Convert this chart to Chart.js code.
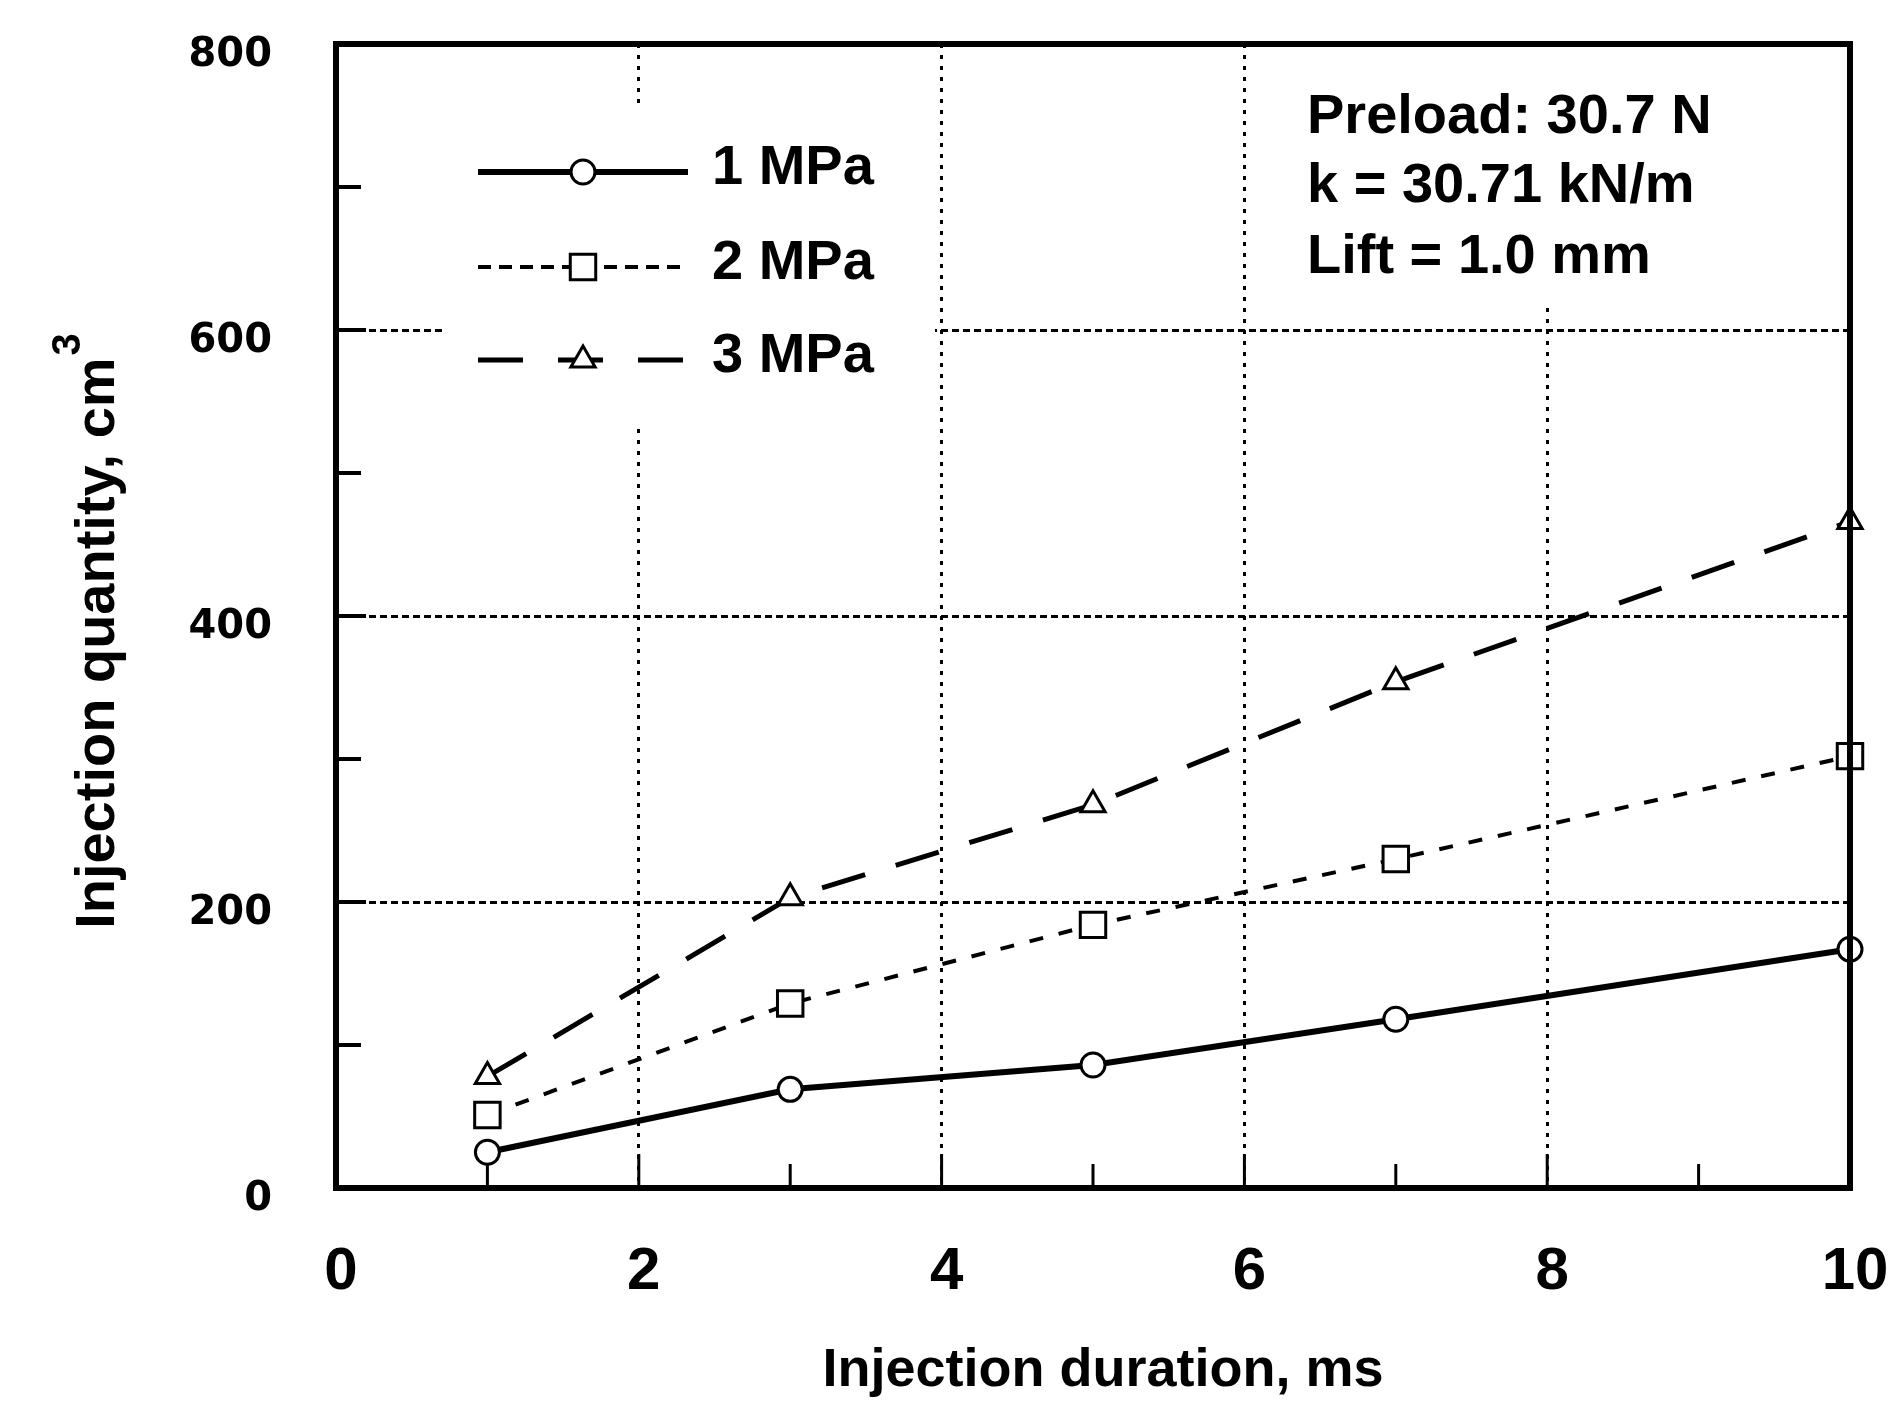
<!DOCTYPE html>
<html>
<head>
<meta charset="utf-8">
<title>Injection quantity vs duration</title>
<script src="https://cdn.jsdelivr.net/npm/chart.js@4.4.1/dist/chart.umd.min.js"></script>
<style>
  html, body { margin: 0; padding: 0; background: #fff; }
  #wrap { width: 1898px; height: 1403px; }
</style>
</head>
<body>
<div id="wrap"><canvas id="injChart" width="1898" height="1403"></canvas></div>
<script>
// injection duration (ms) where points were measured
const durations = [1, 3, 5, 7, 10];

// injection quantity (cm3) per supply pressure
const q1MPa = [25, 69, 86, 118, 167];
const q2MPa = [51, 129, 184, 230, 302];
const q3MPa = [78, 203, 268, 354, 466];

const seriesLabels = ["1 MPa", "2 MPa", "3 MPa"];
const xTickLabels = [0, 2, 4, 6, 8, 10];
const yTickLabels = [0, 200, 400, 600, 800];
const noteLines = ["Preload: 30.7 N", "k = 30.71 kN/m", "Lift = 1.0 mm"];

const xTitle = "Injection duration, ms";
const yTitle = "Injection quantity, cm";

const INK = "#000";

function toPoints(ys) {
    return durations.map((d, i) => ({ x: d, y: ys[i] }));
}

const seriesStyle = [
    { dash: [], legendDash: [], width: 6, pointStyle: "circle", radius: 12 },
    { dash: [14, 16], legendDash: [13, 8], width: 4, pointStyle: "rect", radius: 18 },
    { dash: [45, 32], legendDash: [45, 35], width: 5, pointStyle: "triangle", radius: 14 },
];

const seriesData = [q1MPa, q2MPa, q3MPa];

const datasets = seriesData.map((ys, i) => ({
    label: seriesLabels[i],
    data: toPoints(ys),
    borderColor: INK,
    borderWidth: seriesStyle[i].width,
    borderDash: seriesStyle[i].dash,
    pointStyle: seriesStyle[i].pointStyle,
    pointRadius: seriesStyle[i].radius,
    pointBorderWidth: 3,
    pointBorderColor: INK,
    pointBackgroundColor: "#fff",
    tension: 0,
    clip: false,
}));

// frame, inner ticks, legend box, note text and axis titles
const decorations = {
    id: "decorations",
    afterDraw(chart) {
        const ctx = chart.ctx;
        const area = chart.chartArea;
        const xs = chart.scales.x;
        const ys = chart.scales.y;

        ctx.save();

        // white boxes that hide the grid behind legend and notes
        ctx.fillStyle = "#fff";
        ctx.fillRect(442, 108, 493, 317);
        ctx.fillRect(1290, area.top, area.right - 1290, 258);

        // inner tick marks
        ctx.strokeStyle = INK;
        ctx.setLineDash([]);
        for (let v = 100; v < 800; v += 100) {
            const py = ys.getPixelForValue(v);
            ctx.lineWidth = 4;
            ctx.beginPath();
            ctx.moveTo(area.left, py);
            ctx.lineTo(area.left + (v % 200 === 0 ? 30 : 25), py);
            ctx.stroke();
        }
        for (let v = 1; v < 10; v++) {
            const px = xs.getPixelForValue(v);
            ctx.lineWidth = 3;
            ctx.beginPath();
            ctx.moveTo(px, area.bottom);
            ctx.lineTo(px, area.bottom - (v % 2 === 0 ? 34 : 24));
            ctx.stroke();
        }

        // plot frame
        ctx.lineWidth = 6;
        ctx.strokeRect(area.left, area.top, area.right - area.left, area.bottom - area.top);

        // legend
        const legendRows = [172, 267, 360];
        seriesStyle.forEach((s, i) => {
            const y = legendRows[i];
            ctx.strokeStyle = INK;
            ctx.lineWidth = s.width;
            ctx.setLineDash(s.legendDash);
            ctx.beginPath();
            ctx.moveTo(478, y);
            ctx.lineTo(688, y);
            ctx.stroke();
            ctx.setLineDash([]);
            ctx.fillStyle = "#fff";
            ctx.lineWidth = 3;
            Chart.helpers.drawPoint(ctx, {
                pointStyle: s.pointStyle,
                radius: s.radius,
                borderWidth: 3,
                rotation: 0,
            }, 583, y);
            ctx.fillStyle = INK;
            ctx.font = "bold 56px 'Liberation Sans', Arial, sans-serif";
            ctx.textAlign = "left";
            ctx.textBaseline = "alphabetic";
            ctx.fillText(seriesLabels[i], 712, y + 12);
        });

        // notes
        const noteBase = [133, 202, 273];
        ctx.font = "bold 56px 'Liberation Sans', Arial, sans-serif";
        noteLines.forEach((t, i) => ctx.fillText(t, 1307, noteBase[i]));

        // x title
        ctx.font = "bold 54px 'Liberation Sans', Arial, sans-serif";
        ctx.textAlign = "center";
        ctx.textBaseline = "middle";
        ctx.fillText(xTitle, (area.left + area.right) / 2 + 10, 1371);

        // y title, rotated, with superscript 3
        ctx.translate(94, 632);
        ctx.rotate(-Math.PI / 2);
        ctx.font = "bold 56px 'Liberation Sans', Arial, sans-serif";
        const mainW = ctx.measureText(yTitle).width;
        ctx.font = "bold 40px 'Liberation Sans', Arial, sans-serif";
        const supW = ctx.measureText("3").width;
        const start = -(mainW + supW) / 2;
        ctx.textAlign = "left";
        ctx.textBaseline = "alphabetic";
        ctx.font = "bold 56px 'Liberation Sans', Arial, sans-serif";
        ctx.fillText(yTitle, start, 20);
        ctx.font = "bold 40px 'Liberation Sans', Arial, sans-serif";
        ctx.fillText("3", start + mainW + 2, -14);

        ctx.restore();
    }
};

new Chart(document.getElementById("injChart"), {
    type: "line",
    data: { datasets: datasets },
    options: {
        responsive: false,
        animation: false,
        layout: { padding: { top: 44, right: 48, left: 0, bottom: 0 } },
        plugins: {
            legend: { display: false },
            tooltip: { enabled: false },
        },
        scales: {
            x: {
                type: "linear",
                min: 0,
                max: 10,
                afterFit(scale) {
                    scale.height = 1403 - 1188;
                    scale.paddingLeft = 0;
                    scale.paddingRight = 0;
                },
                ticks: {
                    stepSize: 1,
                    padding: 48,
                    labelOffset: 5,
                    color: INK,
                    font: { family: "'Liberation Sans', Arial, sans-serif", size: 60, weight: "bold" },
                    callback: v => xTickLabels.includes(v) ? String(v) : "",
                },
                grid: {
                    drawTicks: false,
                    lineWidth: 3,
                    color: c => (c.tick && c.tick.value % 2 === 0 && c.tick.value > 0 && c.tick.value < 10) ? INK : "rgba(0,0,0,0)",
                },
                border: { display: false, dash: [4, 7] },
            },
            y: {
                min: 0,
                max: 800,
                afterFit(scale) {
                    scale.width = 336;
                    scale.paddingTop = 0;
                    scale.paddingBottom = 0;
                },
                ticks: {
                    stepSize: 100,
                    padding: 64,
                    labelOffset: 12,
                    color: INK,
                    font: { family: "'DejaVu Sans', sans-serif", size: 40, weight: "bold" },
                    callback: v => yTickLabels.includes(v) ? String(v) : "",
                },
                grid: {
                    drawTicks: false,
                    lineWidth: 3,
                    color: c => (c.tick && c.tick.value % 200 === 0 && c.tick.value > 0 && c.tick.value < 800) ? INK : "rgba(0,0,0,0)",
                },
                border: { display: false, dash: [7, 4] },
            },
        },
    },
    plugins: [decorations],
});
</script>
</body>
</html>
